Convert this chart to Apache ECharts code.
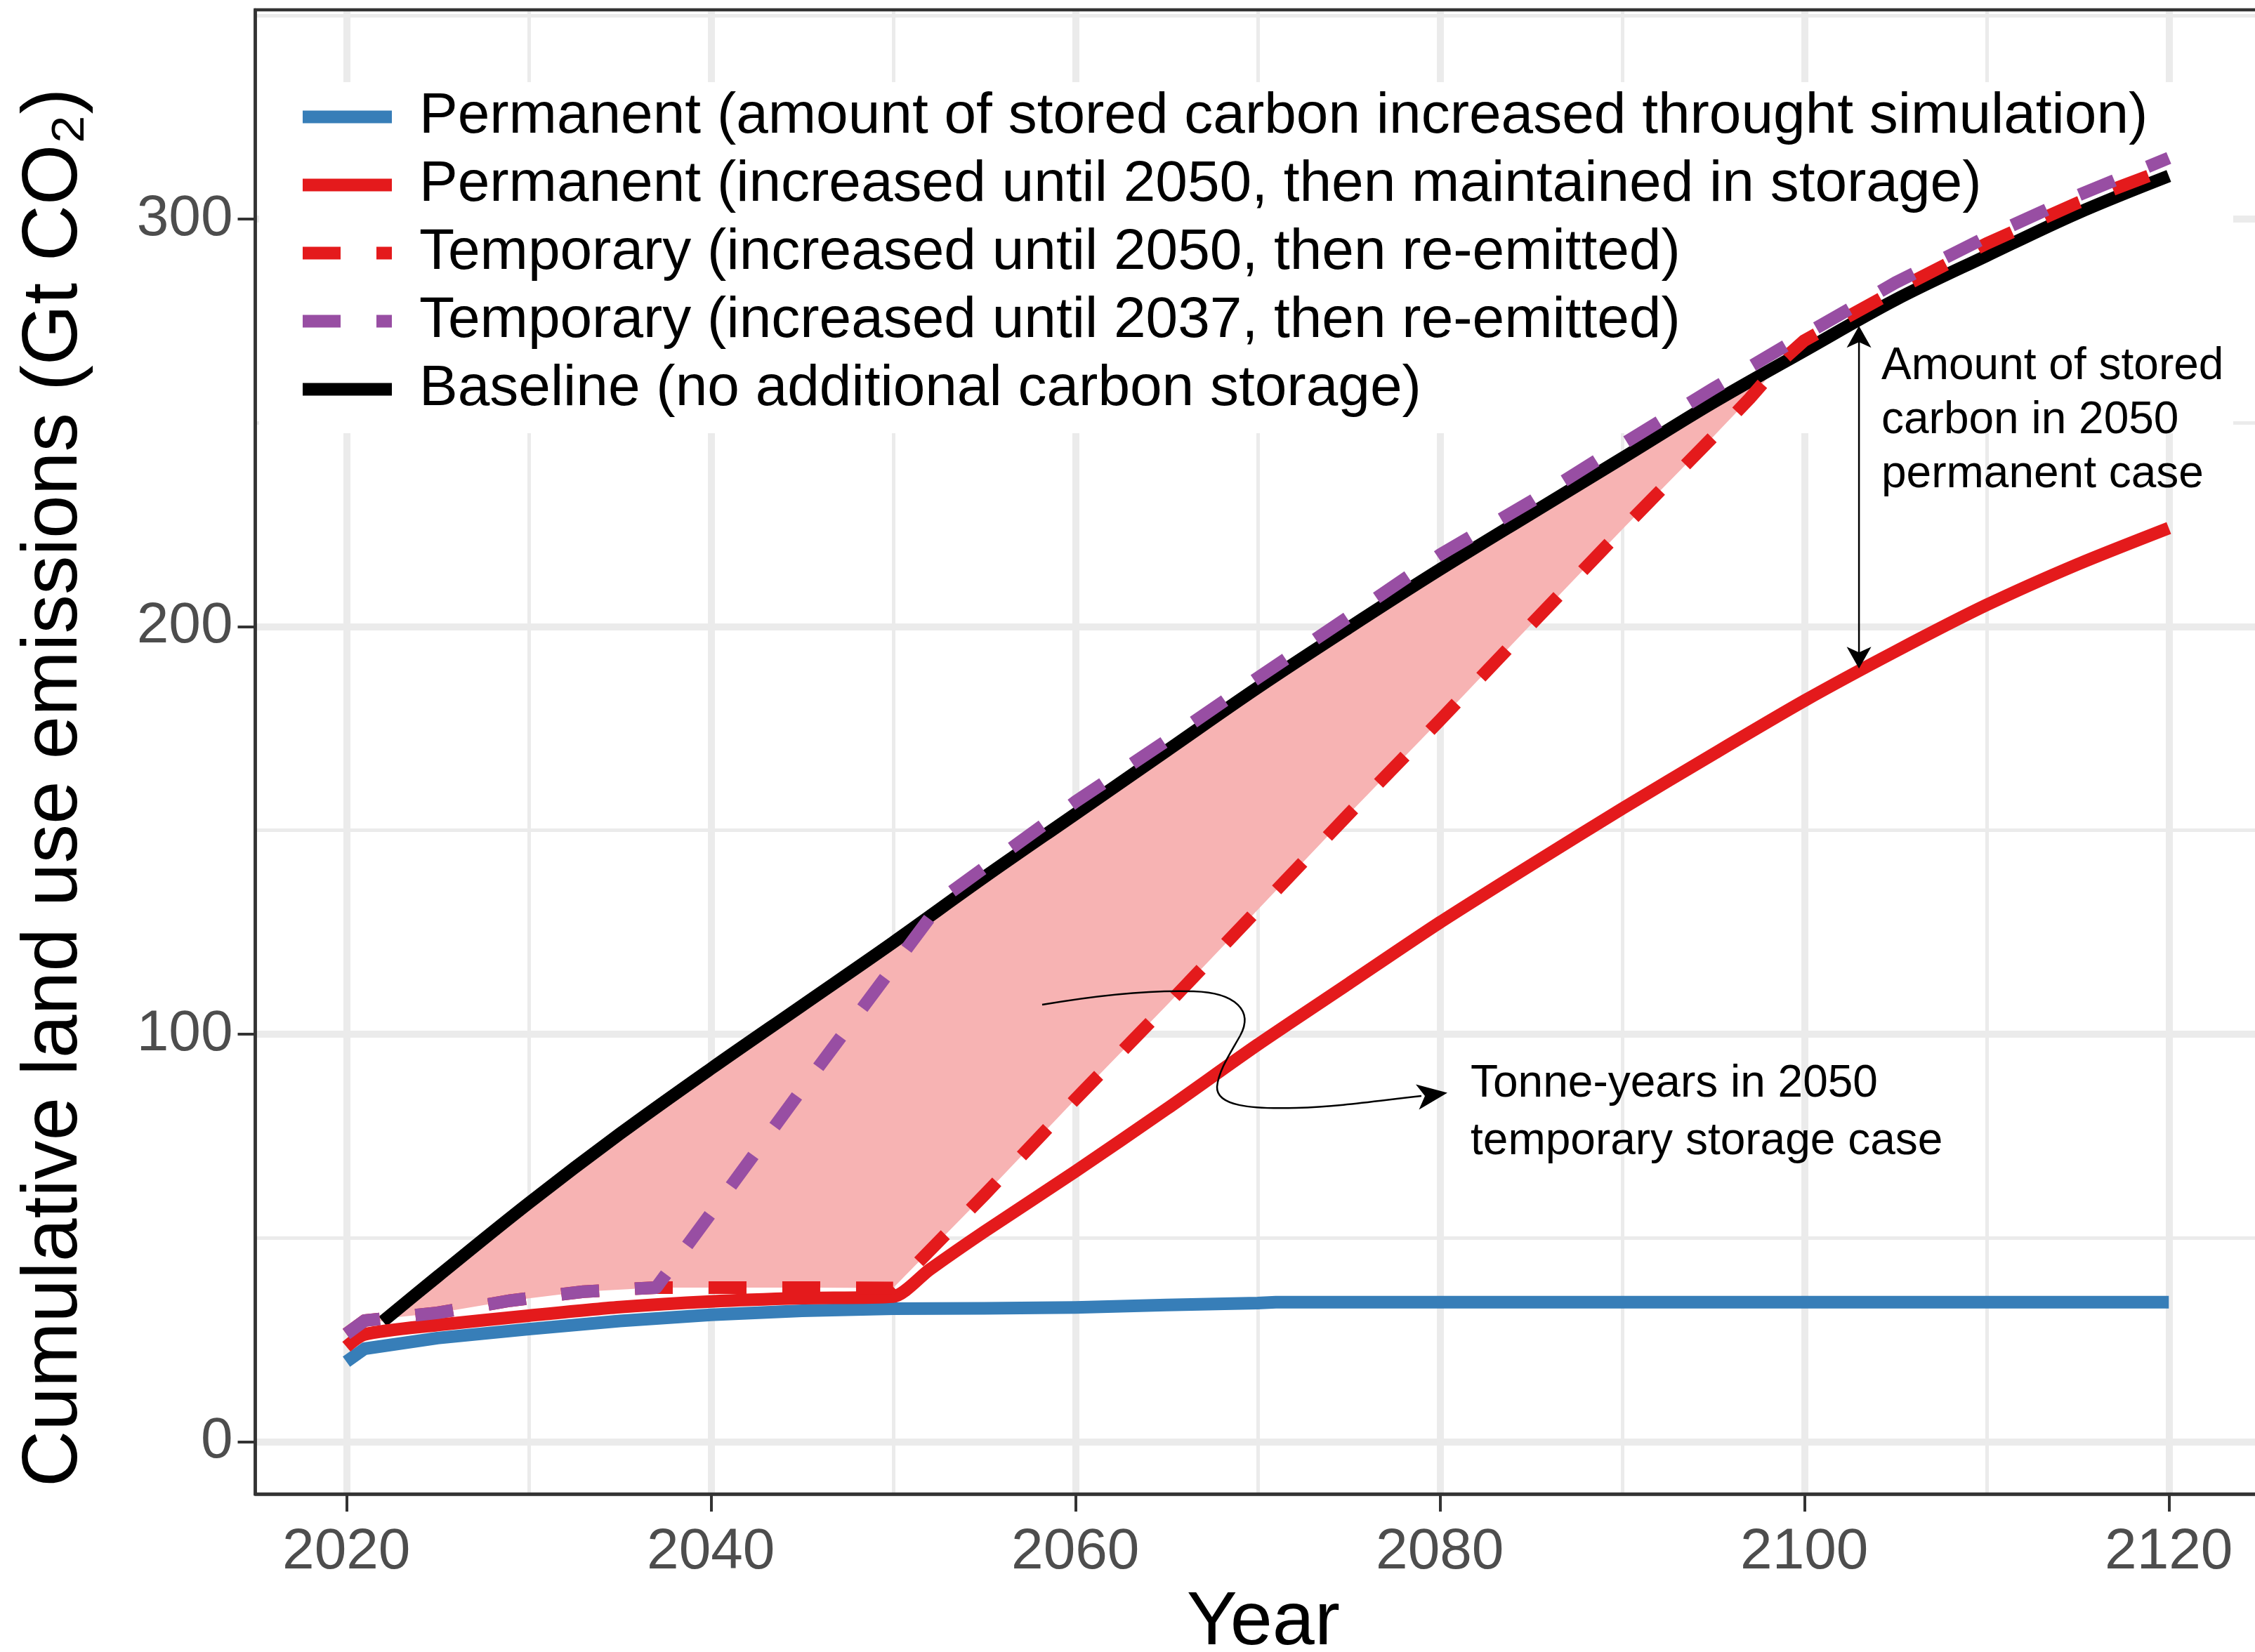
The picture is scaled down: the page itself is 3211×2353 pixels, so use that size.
<!DOCTYPE html>
<html><head><meta charset="utf-8">
<script src="https://cdn.jsdelivr.net/npm/echarts@6/dist/echarts.min.js"></script>
<style>html,body{margin:0;padding:0;background:#fff}#c{width:3211px;height:2353px}</style>
</head><body><div id="c"></div>
<script>
// ---------- data ----------
const xTickValues = [2020, 2040, 2060, 2080, 2100, 2120];
const xMinorGrid = [2030, 2050, 2070, 2090, 2110];
const yTickValues = [0, 100, 200, 300];
const yMinorGrid = [50, 150, 250, 350];

const seriesNames = [
  'Permanent (amount of stored carbon increased throught simulation)',
  'Permanent (increased until 2050, then maintained in storage)',
  'Temporary (increased until 2050, then re-emitted)',
  'Temporary (increased until 2037, then re-emitted)',
  'Baseline (no additional carbon storage)'
];

const baselineYears  = [2022, 2025, 2030, 2035, 2040, 2045, 2050, 2055, 2060, 2065, 2070, 2075, 2080, 2085, 2090, 2095, 2100, 2105, 2110, 2115, 2120];
const baselineValues = [29.5, 40.5, 58.5, 75.5, 91.5, 107, 122.5, 138.5, 154, 169.5, 185, 199.7, 214, 227.7, 241.3, 255, 267.7, 280.2, 291, 301.5, 310.6];

const permSimYears  = [2020, 2021, 2025, 2030, 2035, 2040, 2045, 2050, 2055, 2060, 2065, 2070, 2071, 2080, 2090, 2100, 2110, 2120];
const permSimValues = [19.6, 22.8, 25.4, 27.6, 29.6, 31.1, 32.1, 32.6, 32.7, 32.9, 33.5, 34.0, 34.2, 34.2, 34.2, 34.2, 34.2, 34.2];

const perm2050Years  = [2020, 2021, 2025, 2030, 2035, 2040, 2045, 2050, 2052, 2055, 2060, 2065, 2070, 2075, 2080, 2085, 2090, 2095, 2100, 2105, 2110, 2115, 2120];
const perm2050Values = [23.3, 26.3, 28.6, 30.9, 33.0, 34.4, 35.2, 35.6, 42.2, 51.5, 66.3, 81.6, 97.4, 112.4, 127.4, 141.5, 155.3, 168.7, 181.8, 193.9, 205.3, 215.3, 224.2];

const temp2050Years  = [2020, 2021, 2025, 2029, 2033, 2037, 2040, 2045, 2050, 2055, 2060, 2065, 2070, 2075, 2080, 2085, 2090, 2095, 2097, 2099, 2100, 2105, 2110, 2115, 2120];
const temp2050Values = [26.4, 29.7, 31.6, 34.6, 36.8, 37.8, 37.8, 37.8, 37.7, 60.5, 84, 107, 130.5, 154, 177, 200.5, 223.8, 246.6, 256, 266.2, 270.2, 282.5, 294, 304, 312.5];

const temp2037Years  = [2020, 2021, 2025, 2029, 2033, 2037, 2040, 2045, 2050, 2052, 2053, 2055, 2060, 2065, 2070, 2075, 2080, 2085, 2090, 2095, 2100, 2105, 2110, 2115, 2120];
const temp2037Values = [26.4, 29.7, 31.6, 34.6, 36.8, 37.8, 56, 86.5, 116.5, 128.5, 134.3, 140.8, 157, 172, 187.4, 202.4, 217.6, 230.7, 244.7, 258.4, 271.6, 284.4, 295.6, 305.8, 315];

const bandEndYear = 2100;           // shaded tonne-years area ends where the curves meet
const arrowYear = 2103;             // double arrow "Amount of stored carbon"
const arrowTopValue = 273.8;
const arrowBottomValue = 189.7;

const noteStored = 'Amount of stored\ncarbon in 2050\npermanent case';
const noteTonne = 'Tonne-years in 2050\ntemporary storage case';
const yTitle = 'Cumulative land use emissions (Gt CO\u2082)';
const xTitle = 'Year';

// ---------- helpers ----------
const zip = (xs, ys) => xs.map((x, i) => [x, ys[i]]);
const FONT = 'Liberation Sans';
const colors = { blue: '#377EB8', red: '#E41A1C', purple: '#984EA3', black: '#000000' };
const DASH = [54, 51];
const LW = 18;

const upper = zip(baselineYears, baselineValues).filter(p => p[0] <= bandEndYear);
const lower = zip(temp2050Years, temp2050Values).filter(p => p[0] >= 2021 && p[0] <= bandEndYear).reverse();
const bandPoints = upper.concat(lower);

const gridMarks = []
  .concat(xTickValues.map(v => ({ xAxis: v, lineStyle: { width: 10 } })))
  .concat(xMinorGrid.map(v => ({ xAxis: v, lineStyle: { width: 5 } })))
  .concat(yTickValues.map(v => ({ yAxis: v, lineStyle: { width: 10 } })))
  .concat(yMinorGrid.map(v => ({ yAxis: v, lineStyle: { width: 5 } })));

const curveSegs = [
  [1484, 1431, 1560, 1418, 1640, 1410, 1700, 1412],
  [1700, 1412, 1760, 1414, 1785, 1440, 1766, 1475],
  [1766, 1475, 1752, 1500, 1735, 1525, 1733, 1548],
  [1733, 1548, 1732, 1575, 1780, 1580, 1846, 1578],
  [1846, 1578, 1910, 1576, 1960, 1568, 2024, 1561]
];

const chart = echarts.init(document.getElementById('c'), null, { renderer: 'canvas' });

const lineSeries = (name, years, vals, color, dashed, z, smooth) => ({
  name, type: 'line', data: zip(years, vals), showSymbol: false, symbol: 'none', z,
  smooth: smooth || false,
  lineStyle: { color, width: LW, type: dashed ? DASH : 'solid', cap: 'butt', join: 'round' },
  itemStyle: { color }, silent: true, animation: false
});

const graphics = [
  { type: 'rect', z: 2, silent: true, shape: { x: 369, y: 117, width: 2811, height: 500 }, style: { fill: '#ffffff' } },
  { type: 'text', z: 30, x: 78, y: 2118, rotation: Math.PI / 2, silent: true,
    style: { text: yTitle, fontSize: 111, fontFamily: FONT, fill: '#000', align: 'left', verticalAlign: 'middle' } },
  { type: 'text', z: 30, x: 2679, y: 484, silent: true,
    style: { text: noteStored, fontSize: 64, fontFamily: FONT, fill: '#000', align: 'left', verticalAlign: 'top', lineHeight: 77 } },
  { type: 'text', z: 30, x: 2094, y: 1503.5, silent: true,
    style: { text: noteTonne, fontSize: 64, fontFamily: FONT, fill: '#000', align: 'left', verticalAlign: 'top', lineHeight: 82 } },
  { type: 'polygon', z: 30, silent: true,
    shape: { points: [[2061, 1556.5], [2016, 1544.5], [2029, 1561], [2020.5, 1580.5]] },
    style: { fill: '#000' } }
].concat(curveSegs.map(s => ({
  type: 'bezierCurve', z: 30, silent: true,
  shape: { x1: s[0], y1: s[1], cpx1: s[2], cpy1: s[3], cpx2: s[4], cpy2: s[5], x2: s[6], y2: s[7] },
  style: { stroke: '#000', lineWidth: 2.5, fill: null }
})));

const option = {
  animation: false,
  textStyle: { fontFamily: FONT },
  grid: {
    left: 363.5, top: 14, width: 2854.5, height: 2114,
    show: true, borderColor: '#333333', borderWidth: 4.5, backgroundColor: 'transparent',
    containLabel: false, outerBoundsMode: 'none', z: 20
  },
  xAxis: {
    type: 'value', min: 2015, max: 2125, z: 20,
    axisLine: { show: true, onZero: false, lineStyle: { color: '#333333', width: 4.5 } },
    axisTick: { show: true, length: 25, customValues: xTickValues, lineStyle: { color: '#333333', width: 4 } },
    axisLabel: { show: true, customValues: xTickValues, margin: 42, fontSize: 82, fontFamily: FONT, color: '#4D4D4D', formatter: v => String(v) },
    splitLine: { show: false }, minorSplitLine: { show: false },
    name: xTitle, nameLocation: 'middle', nameGap: 130, nameMoveOverlap: false,
    nameTextStyle: { fontSize: 108, fontFamily: FONT, color: '#000', padding: [0, 0, 0, 16] }
  },
  yAxis: {
    type: 'value', min: -12.87, max: 351.36, z: 20,
    axisLine: { show: true, onZero: false, lineStyle: { color: '#333333', width: 4.5 } },
    axisTick: { show: true, length: 25, customValues: yTickValues, lineStyle: { color: '#333333', width: 4 } },
    axisLabel: { show: true, customValues: yTickValues, margin: 32, fontSize: 82, fontFamily: FONT, color: '#4D4D4D', formatter: v => String(v) },
    splitLine: { show: false }, minorSplitLine: { show: false }
  },
  legend: {
    show: true, orient: 'vertical', left: 422, top: 118, padding: 0, itemGap: 0,
    itemWidth: 127, itemHeight: 20, selectedMode: false, z: 30,
    data: seriesNames,
    itemStyle: { opacity: 0, borderWidth: 0 },
    lineStyle: { width: 18 },
    textStyle: { fontSize: 82, fontFamily: FONT, color: '#000', lineHeight: 97, padding: [0, 0, 0, 34] }
  },
  graphic: graphics,
  series: [
    { type: 'line', name: '_grid', data: [], silent: true, z: 1,
      markLine: { silent: true, z: 1, symbol: ['none', 'none'], label: { show: false },
        lineStyle: { color: '#EBEBEB', type: 'solid' }, emphasis: { disabled: true }, data: gridMarks } },
    { type: 'custom', name: '_band', silent: true, z: 3, data: [[2050, 100]],
      renderItem: (params, api) => ({
        type: 'polygon',
        shape: { points: bandPoints.map(p => api.coord(p)) },
        style: { fill: '#F7B3B3' }
      }) },
    lineSeries(seriesNames[4], baselineYears, baselineValues, colors.black, false, 4, 0.35),
    lineSeries(seriesNames[0], permSimYears, permSimValues, colors.blue, false, 5),
    lineSeries(seriesNames[1], perm2050Years, perm2050Values, colors.red, false, 6, 0.25),
    lineSeries(seriesNames[2], temp2050Years, temp2050Values, colors.red, true, 7),
    lineSeries(seriesNames[3], temp2037Years, temp2037Values, colors.purple, true, 8),
    { type: 'custom', name: '_arrow', silent: true, z: 9, data: [[arrowYear, arrowTopValue]],
      renderItem: (params, api) => {
        const a = api.coord([arrowYear, arrowTopValue]);
        const b = api.coord([arrowYear, arrowBottomValue]);
        return { type: 'group', children: [
          { type: 'line', shape: { x1: a[0], y1: a[1] + 20, x2: b[0], y2: b[1] - 20 }, style: { stroke: '#000', lineWidth: 2.5 } },
          { type: 'polygon', shape: { points: [[a[0], a[1]], [a[0] - 17.5, a[1] + 31], [a[0], a[1] + 23], [a[0] + 17.5, a[1] + 31]] }, style: { fill: '#000' } },
          { type: 'polygon', shape: { points: [[b[0], b[1]], [b[0] - 17.5, b[1] - 31], [b[0], b[1] - 23], [b[0] + 17.5, b[1] - 31]] }, style: { fill: '#000' } }
        ] };
      } }
  ]
};
chart.setOption(option);
</script>
</body></html>
